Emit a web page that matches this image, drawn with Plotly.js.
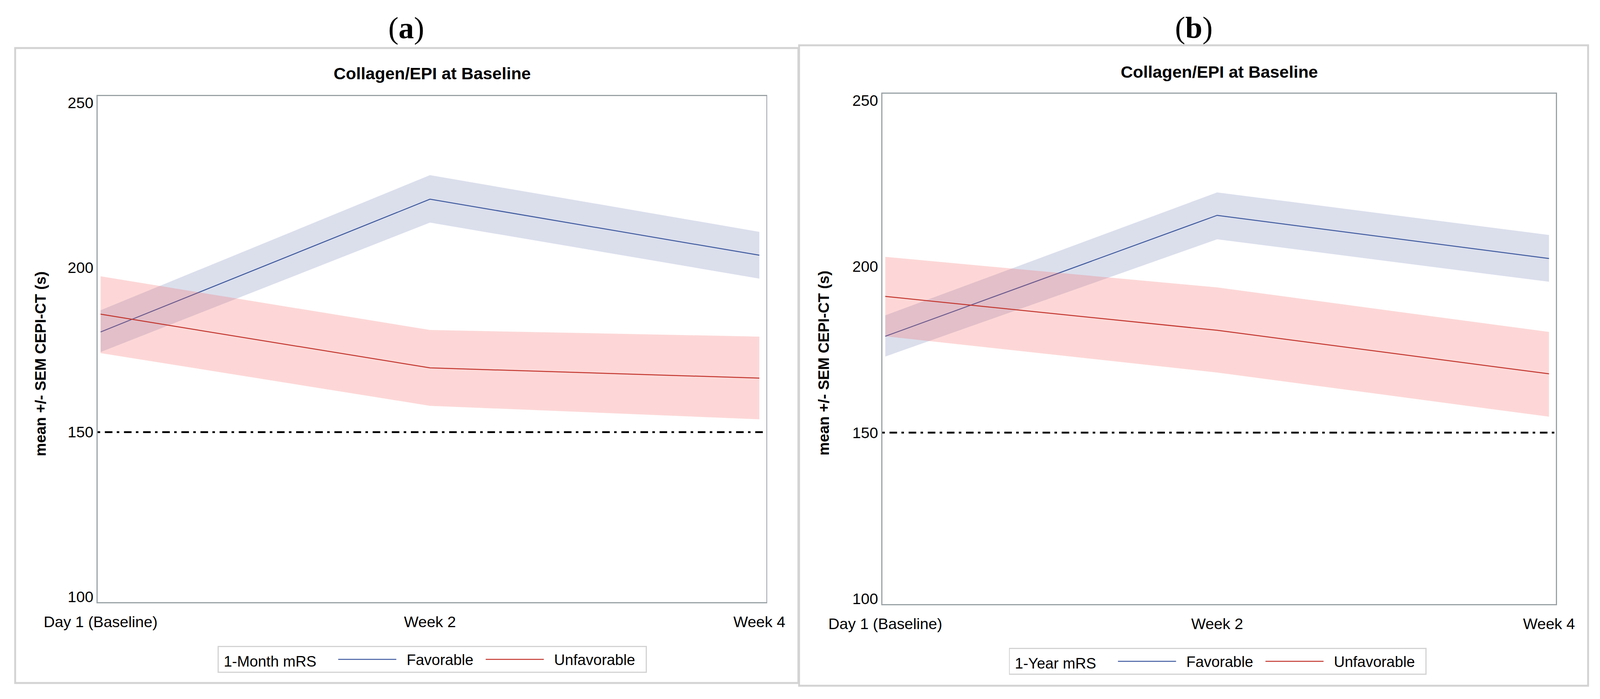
<!DOCTYPE html>
<html>
<head>
<meta charset="utf-8">
<script src="https://cdn.plot.ly/plotly-3.0.1.min.js"></script>
<style>
  html, body { margin: 0; padding: 0; background: #ffffff; overflow: hidden; }
  #chart { position: absolute; left: 0; top: 0; }
</style>
</head>
<body>
<div id="chart"></div>
<script>
// ---------------- data ----------------
const visits = ['Day 1 (Baseline)', 'Week 2', 'Week 4'];
const groupNames = ['Favorable', 'Unfavorable'];
const panelLabels = ['a', 'b'];
const legendTitles = ['1-Month mRS', '1-Year mRS'];
const chartTitle = 'Collagen/EPI at Baseline';
const yAxisLabel = 'mean +/- SEM CEPI-CT (s)';
const yTickVals = [100, 150, 200, 250];
const refLineValue = [150];

// panel (a): 1-Month mRS
const aFavMean  = [180.4, 220.7, 203.7];
const aFavUpper = [187.0, 228.0, 210.8];
const aFavLower = [174.3, 213.6, 196.6];
const aUnfMean  = [185.8, 169.5, 166.4];
const aUnfUpper = [197.3, 181.0, 179.0];
const aUnfLower = [174.0, 158.0, 153.9];

// panel (b): 1-Year mRS
const bFavMean  = [179.0, 215.4, 202.4];
const bFavUpper = [185.3, 222.3, 209.5];
const bFavLower = [172.9, 208.2, 195.4];
const bUnfMean  = [191.0, 180.8, 167.7];
const bUnfUpper = [202.9, 193.7, 180.3];
const bUnfLower = [179.0, 168.1, 154.8];

// ---------------- geometry (designed on a 4433 x 1790 canvas, fitted to the viewport) ----------------
const W0 = 4433, H0 = 1790;
const VW = window.innerWidth || W0, VH = window.innerHeight || H0;
const SX = VW / W0, SY = VH / H0;
const SF = (SX + SY) / 2;            // scale for fonts / strokes
const zx = v => v * SX, zy = v => v * SY, zf = v => v * SF;
const px = v => v / W0;
const py = v => 1 - v / H0;
const SANS = 'Liberation Sans, Arial, sans-serif';
const SERIF = 'Liberation Serif, Times New Roman, serif';
const lineColors = ['#3F5A9F', '#C2352D'];
const bandColors = ['rgba(111,126,179,0.25)', 'rgba(247,95,95,0.25)'];
const NB = '\u00A0';

function band(xa, ya, upper, lower, color) {
  return {
    x: visits.concat(visits.slice().reverse()),
    y: upper.concat(lower.slice().reverse()),
    xaxis: xa, yaxis: ya,
    type: 'scatter', mode: 'lines', fill: 'toself',
    fillcolor: color, line: { width: 0, color: 'rgba(0,0,0,0)' },
    hoverinfo: 'skip', showlegend: false
  };
}
function meanLine(xa, ya, mean, color, label, legendId) {
  return {
    x: visits, y: mean, xaxis: xa, yaxis: ya,
    type: 'scatter', mode: 'lines', name: label,
    line: { color: color, width: zf(2.6) },
    legend: legendId, showlegend: true
  };
}
const favLabel = NB + NB + groupNames[0] + NB + NB;
const unfLabel = NB + NB + groupNames[1] + NB + NB;

const data = [
  band('x', 'y', aFavUpper, aFavLower, bandColors[0]),
  meanLine('x', 'y', aFavMean, lineColors[0], favLabel, 'legend'),
  band('x', 'y', aUnfUpper, aUnfLower, bandColors[1]),
  meanLine('x', 'y', aUnfMean, lineColors[1], unfLabel, 'legend'),
  band('x2', 'y2', bFavUpper, bFavLower, bandColors[0]),
  meanLine('x2', 'y2', bFavMean, lineColors[0], favLabel, 'legend2'),
  band('x2', 'y2', bUnfUpper, bUnfLower, bandColors[1]),
  meanLine('x2', 'y2', bUnfMean, lineColors[1], unfLabel, 'legend2')
];

function xAxis(d0, d1, anchor) {
  return {
    domain: [px(d0), px(d1)], anchor: anchor,
    type: 'category', range: [-0.009, 2.021],
    showline: true, mirror: true, linecolor: '#9AA2A6', linewidth: zf(3),
    showgrid: false, zeroline: false, ticks: '',
    ticklabelstandoff: zy(14),
    tickfont: { family: SANS, size: zf(41), color: '#000000' },
    fixedrange: true
  };
}
function yAxis(top, bottom, anchor) {
  return {
    domain: [py(bottom), py(top)], anchor: anchor,
    range: [98.4, 252.0],
    tickvals: yTickVals, ticktext: yTickVals.map(String),
    showline: true, mirror: true, linecolor: '#9AA2A6', linewidth: zf(3),
    showgrid: false, zeroline: false, ticks: '',
    ticklabelstandoff: zx(22),
    tickfont: { family: SANS, size: zf(41), color: '#000000' },
    fixedrange: true
  };
}
function legendBox(x, yTop, title) {
  return {
    x: px(x), xanchor: 'left', y: py(yTop), yanchor: 'top',
    orientation: 'h', bgcolor: '#ffffff',
    bordercolor: '#D3D3D3', borderwidth: zf(3),
    font: { family: SANS, size: zf(40), color: '#000000' },
    title: { text: NB + title + NB + NB + NB + NB, side: 'left',
             font: { family: SANS, size: zf(40), color: '#000000' } },
    itemwidth: zx(161), itemclick: false, itemdoubleclick: false
  };
}

function frame(x0, y0, x1, y1) {
  return { type: 'rect', xref: 'paper', yref: 'paper',
           x0: px(x0), x1: px(x1), y0: py(y1), y1: py(y0),
           line: { color: '#D3D3D3', width: zf(5) }, fillcolor: 'rgba(0,0,0,0)', layer: 'below' };
}
function refLine(xref, yref) {
  const d = [7, 13, 21, 12].map(v => zx(v).toFixed(2) + 'px').join(',');
  return { type: 'line', xref: xref + ' domain', yref: yref,
           x0: 0, x1: 1, y0: refLineValue[0], y1: refLineValue[0],
           line: { color: '#000000', width: zf(5), dash: d } };
}
function note(text, x, y, family, size, angle) {
  return { text: text, x: px(x), y: py(y), xref: 'paper', yref: 'paper',
           xanchor: 'center', yanchor: 'middle', showarrow: false, textangle: angle || 0,
           font: { family: family, size: zf(size), color: '#000000' } };
}

const annotations = [
  note('(<b>' + panelLabels[0] + '</b>)', 1126, 71, SERIF, 82),
  note('(<b>' + panelLabels[1] + '</b>)', 3307, 70, SERIF, 82),
  note('<b>' + chartTitle + '</b>', 1197, 188, SANS, 45),
  note('<b>' + chartTitle + '</b>', 3378, 184, SANS, 45),
  note('<b>' + yAxisLabel + '</b>', 112, 932, SANS, 40, -90),
  note('<b>' + yAxisLabel + '</b>', 2283, 930, SANS, 40, -90)
];

const layout = {
  width: VW, height: VH,
  margin: { l: 0, r: 0, t: 0, b: 0, pad: 0 },
  paper_bgcolor: '#ffffff', plot_bgcolor: '#ffffff',
  showlegend: true,
  xaxis: xAxis(270.5, 2123, 'y'),
  yaxis: yAxis(246, 1542, 'x'),
  xaxis2: xAxis(2444.5, 4311, 'y2'),
  yaxis2: yAxis(240, 1547, 'x2'),
  legend: legendBox(603, 1654, legendTitles[0]),
  legend2: legendBox(2795, 1659, legendTitles[1]),
  shapes: [
    frame(42, 123, 2212, 1749),
    frame(2214, 116, 4400, 1756),
    refLine('x', 'y'),
    refLine('x2', 'y2')
  ],
  annotations: annotations,
  hovermode: false
};

Plotly.newPlot('chart', data, layout, { staticPlot: true, displayModeBar: false });
</script>
</body>
</html>
